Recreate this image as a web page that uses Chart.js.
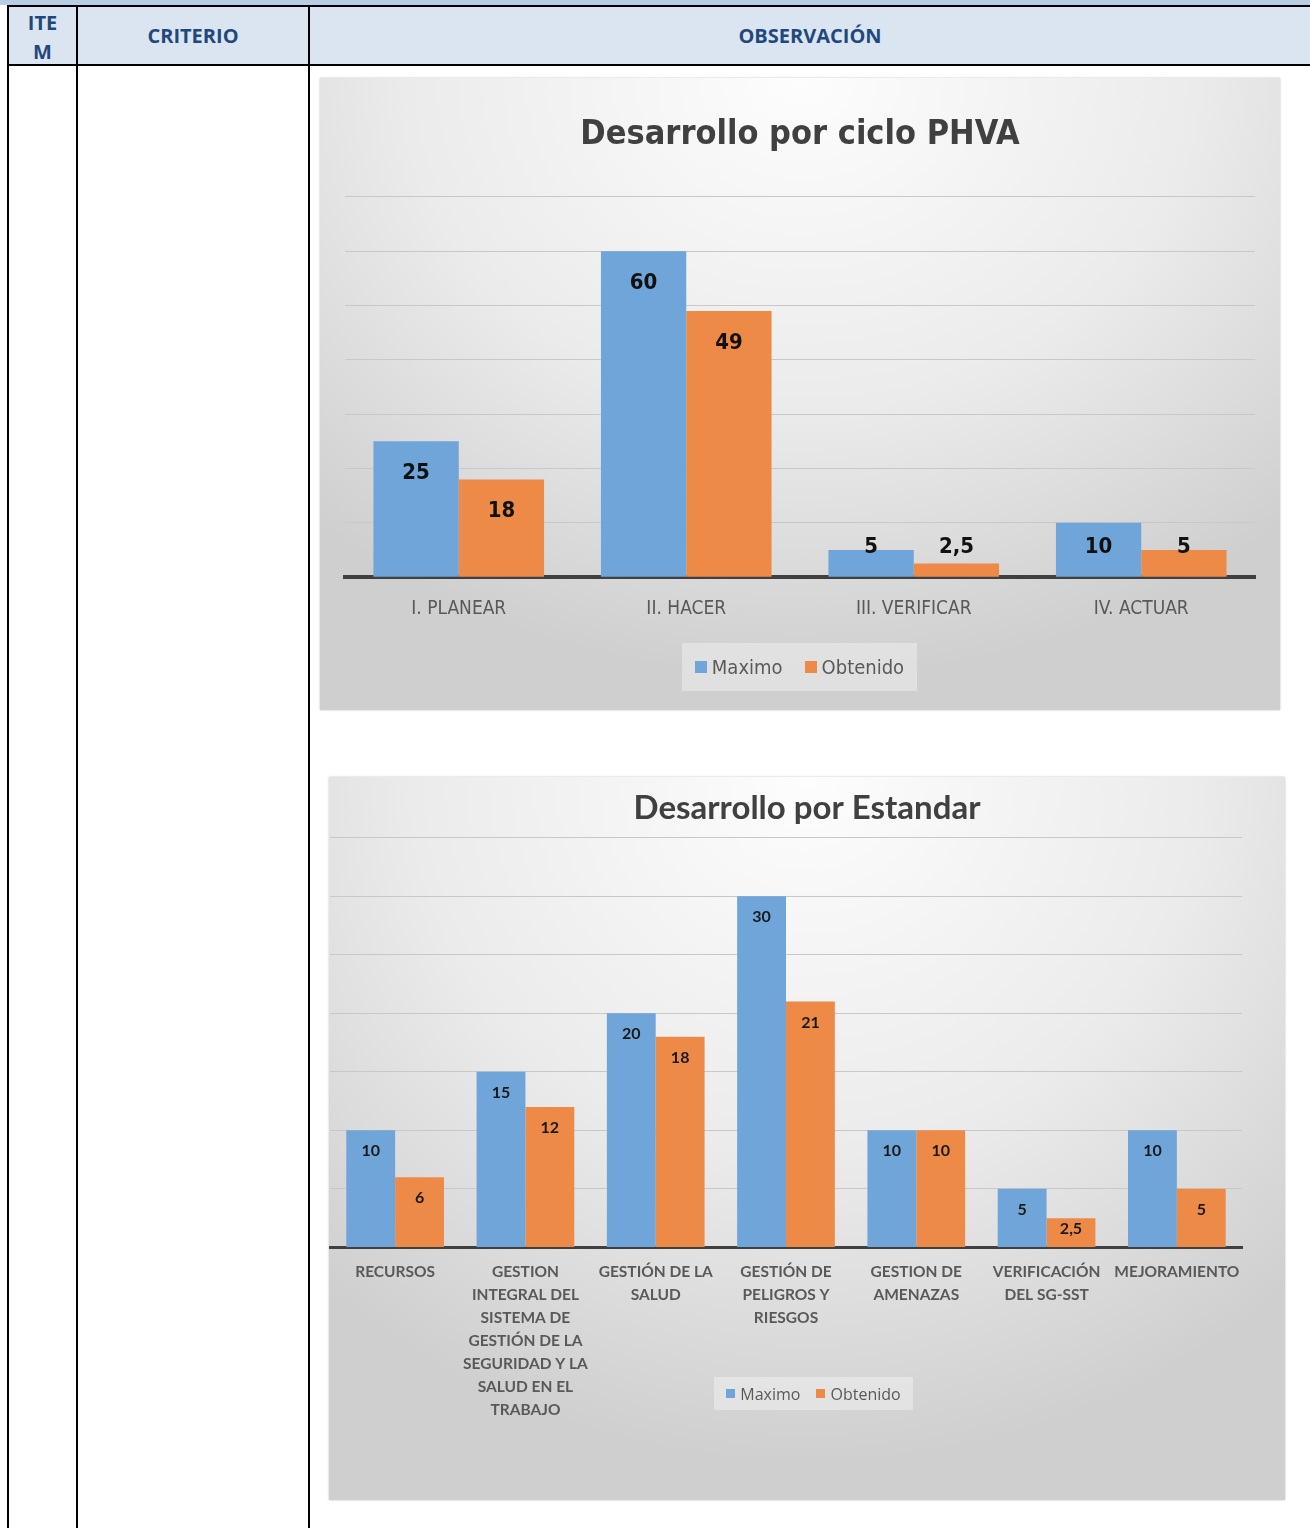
<!DOCTYPE html>
<html>
<head>
<meta charset="utf-8">
<script src="https://cdn.jsdelivr.net/npm/chart.js@4.4.1/dist/chart.umd.min.js"></script>
<style>
    body { margin: 0; background: #fff; width: 1310px; height: 1528px; overflow: hidden; position: relative; font-family: 'Open Sans', sans-serif; }
    .abs { position: absolute; }
    .line { position: absolute; background: #000; }
    .head { position: absolute; color: #1f497d; font-weight: bold; font-size: 20px; text-align: center; font-family: 'Open Sans', sans-serif; }
    .box { position: absolute; box-shadow: 0 0 2px rgba(0,0,0,0.25);
        background: radial-gradient(ellipse 75% 95% at 50% 0%, #fdfdfd 0%, #ebebeb 55%, #cfcfcf 100%); }
    .legend { position: absolute; background: rgba(255,255,255,0.35); color: #595959; display: flex; align-items: center; justify-content: center; }
    .legend span.sq { display: inline-block; }
</style>
</head>
<body>
<!-- table header -->
<div class="abs" style="left:0;top:0;width:1310px;height:5px;background:#b8cce4"></div>
<div class="abs" style="left:8px;top:6px;width:1302px;height:59px;background:#dbe5f1"></div>
<div class="line" style="left:7px;top:5px;width:1303px;height:2px"></div>
<div class="line" style="left:7px;top:64px;width:1303px;height:2px"></div>
<div class="line" style="left:7px;top:5px;width:2px;height:1523px"></div>
<div class="line" style="left:76px;top:5px;width:2px;height:1523px"></div>
<div class="line" style="left:308px;top:5px;width:2px;height:1523px"></div>
<div class="head" style="left:9px;top:8px;width:67px;line-height:29px">ITE<br>M</div>
<div class="head" style="left:78px;top:22px;width:230px;line-height:28px">CRITERIO</div>
<div class="head" style="left:310px;top:22px;width:1000px;line-height:28px">OBSERVACIÓN</div>

<!-- chart 1 -->
<div class="box" style="left:320px;top:78px;width:960px;height:632px">
    <canvas id="phvaChart"></canvas>
    <div class="legend" style="left:362px;top:565px;width:235px;height:48px;font-family:'DejaVu Sans Condensed',sans-serif;font-size:20px">
        <span class="sq" style="width:12px;height:12px;background:#6fa5d8;margin-right:5px"></span>Maximo
        <span class="sq" style="width:12px;height:12px;background:#ee8a48;margin-left:22px;margin-right:5px"></span>Obtenido
    </div>
</div>

<!-- chart 2 -->
<div class="box" style="left:329px;top:777px;width:956px;height:723px">
    <canvas id="estandarChart"></canvas>
    <div class="legend" style="left:385px;top:600px;width:199px;height:33px;font-family:'Open Sans',sans-serif;font-size:16px">
        <span class="sq" style="width:9px;height:9px;background:#6fa5d8;margin-right:5px"></span>Maximo
        <span class="sq" style="width:9px;height:9px;background:#ee8a48;margin-left:16px;margin-right:5px"></span>Obtenido
    </div>
</div>

<script>
// datos ciclo PHVA
const phvaLabels = ['I. PLANEAR', 'II. HACER', 'III. VERIFICAR', 'IV. ACTUAR'];
const phvaMaximo = [25, 60, 5, 10];
const phvaObtenido = [18, 49, 2.5, 5];
const phvaMax = 70;
const phvaStep = 10;

// datos por estandar
const estLabels = [
    ['RECURSOS'],
    ['GESTION', 'INTEGRAL DEL', 'SISTEMA DE', 'GESTIÓN DE LA', 'SEGURIDAD Y LA', 'SALUD EN EL', 'TRABAJO'],
    ['GESTIÓN DE LA', 'SALUD'],
    ['GESTIÓN DE', 'PELIGROS Y', 'RIESGOS'],
    ['GESTION DE', 'AMENAZAS'],
    ['VERIFICACIÓN', 'DEL SG-SST'],
    ['MEJORAMIENTO']
];
const estMaximo = [10, 15, 20, 30, 10, 5, 10];
const estObtenido = [6, 12, 18, 21, 10, 2.5, 5];
const estMax = 35;
const estStep = 5;

const blue = '#6fa5d8';
const orange = '#ee8a48';
const narrow = "'DejaVu Sans Condensed', sans-serif";

// plugin para los valores encima de las barras
const valueLabels = {
    id: 'valueLabels',
    afterDatasetsDraw(chart, args, opts) {
        const ctx = chart.ctx;
        const base = chart.scales.y.getPixelForValue(0);
        ctx.save();
        ctx.font = opts.font;
        ctx.fillStyle = opts.color;
        ctx.textAlign = 'center';
        ctx.textBaseline = 'middle';
        chart.data.datasets.forEach((ds, i) => {
            chart.getDatasetMeta(i).data.forEach((bar, j) => {
                const y = Math.min(bar.y + opts.offset, base - opts.clamp);
                ctx.fillText(String(ds.data[j]).replace('.', ','), bar.x, y);
            });
        });
        ctx.restore();
    }
};

function makeChart(id, labels, maximo, obtenido, cfg) {
    const canvas = document.getElementById(id);
    return new Chart(canvas.getContext('2d'), {
        type: 'bar',
        data: {
            labels: labels,
            datasets: [
                { label: 'Maximo', data: maximo, backgroundColor: blue, categoryPercentage: 0.75, barPercentage: 1 },
                { label: 'Obtenido', data: obtenido, backgroundColor: orange, categoryPercentage: 0.75, barPercentage: 1 }
            ]
        },
        options: {
            responsive: true,
            maintainAspectRatio: false,
            animation: false,
            layout: { padding: cfg.padding },
            plugins: {
                legend: { display: false },
                tooltip: { enabled: false },
                title: {
                    display: true,
                    text: cfg.title,
                    color: '#404040',
                    font: { family: cfg.titleFamily, size: cfg.titleSize, weight: 'bold', lineHeight: 1.2 },
                    padding: cfg.titlePadding
                },
                valueLabels: cfg.labels
            },
            scales: {
                x: {
                    grid: { display: false, drawTicks: false },
                    border: { display: true, color: '#404040', width: cfg.axisWidth },
                    ticks: {
                        color: '#595959',
                        font: cfg.tickFont,
                        padding: cfg.tickPadding,
                        maxRotation: 0,
                        autoSkip: false
                    }
                },
                y: {
                    position: 'right',
                    min: 0,
                    max: cfg.max,
                    ticks: { display: false, stepSize: cfg.step },
                    grid: { color: '#c8c8c8', lineWidth: 1, drawTicks: false },
                    border: { display: false },
                    // espacio vacio a la derecha del area del grafico
                    afterFit(scale) { scale.width = cfg.rightGap; }
                }
            }
        },
        plugins: [valueLabels]
    });
}

makeChart('phvaChart', phvaLabels, phvaMaximo, phvaObtenido, {
    title: 'Desarrollo por ciclo PHVA',
    titleFamily: narrow,
    titleSize: 34,
    titlePadding: { top: 37, bottom: 41 },
    padding: { left: 25, right: 25, top: 0, bottom: 70 },
    rightGap: 0,
    max: phvaMax,
    step: phvaStep,
    axisWidth: 4,
    tickFont: { family: narrow, size: 19 },
    tickPadding: 20,
    labels: { font: "bold 22px " + narrow, color: '#111', offset: 32, clamp: 30 }
});

makeChart('estandarChart', estLabels, estMaximo, estObtenido, {
    title: 'Desarrollo por Estandar',
    titleFamily: 'Lato',
    titleSize: 33,
    titlePadding: { top: 12, bottom: 9 },
    padding: { left: 1, right: 1, top: 0, bottom: 66 },
    rightGap: 42,
    max: estMax,
    step: estStep,
    axisWidth: 3,
    tickFont: { family: 'Lato', size: 15.5, weight: 'bold', lineHeight: 1.48 },
    tickPadding: 13,
    labels: { font: "bold 16px Lato", color: '#1a1a1a', offset: 21, clamp: 19 }
});
</script>
</body>
</html>
